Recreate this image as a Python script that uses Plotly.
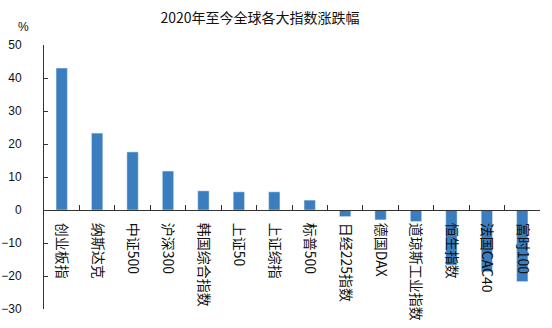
import plotly.graph_objects as go

categories = ["创业板指", "纳斯达克", "中证500", "沪深300", "韩国综合指数", "上证50", "上证综指",
              "标普500", "日经225指数", "德国DAX", "道琼斯工业指数", "恒生指数", "法国CAC40", "富时100"]
values = [43.0, 23.3, 17.6, 11.8, 5.8, 5.5, 5.5, 3.0, -2.0, -3.0, -3.5, -16.7, -18.7, -21.7]
y_ticks = [-30, -20, -10, 0, 10, 20, 30, 40, 50]
y_range = [-30, 50]

fig = go.Figure(go.Bar(x=categories, y=values, marker_color="#3A7EC0", width=0.32))

zero_pos = (0 - y_range[0]) / (y_range[1] - y_range[0])

fig.update_layout(
    width=552, height=328,
    margin=dict(l=44, r=12, t=45, b=19),
    paper_bgcolor="white", plot_bgcolor="white",
    showlegend=False,
    title=dict(text="2020年至今全球各大指数涨跌幅", x=260/552, xanchor="center", y=1-18/328, yanchor="middle",
               font=dict(family="Noto Sans CJK SC", size=14, color="#111")),
    xaxis=dict(anchor="free", position=zero_pos, showline=True, linecolor="#333", linewidth=1,
               ticks="inside", ticklen=5, tickcolor="#333", tickson="boundaries",
               tickangle=90, showgrid=False, ticklabelstandoff=9, automargin=False,
               tickfont=dict(family="Noto Sans CJK SC", size=14, color="#111"),
               range=[-0.5, len(categories) - 0.5]),
    yaxis=dict(range=y_range, tickvals=y_ticks, showline=True, linecolor="#333", linewidth=1,
               ticks="inside", ticklen=4, tickcolor="#333", showgrid=False, zeroline=False,
               ticklabelstandoff=19, automargin=False,
               tickfont=dict(family="Liberation Sans", size=12, color="#111")),
    annotations=[dict(text="%", xref="paper", yref="paper", x=-21/496, y=1 + 18/264,
                      xanchor="center", yanchor="middle", showarrow=False,
                      font=dict(family="Liberation Sans", size=12, color="#111"))],
)

fig.write_html("out.html")
